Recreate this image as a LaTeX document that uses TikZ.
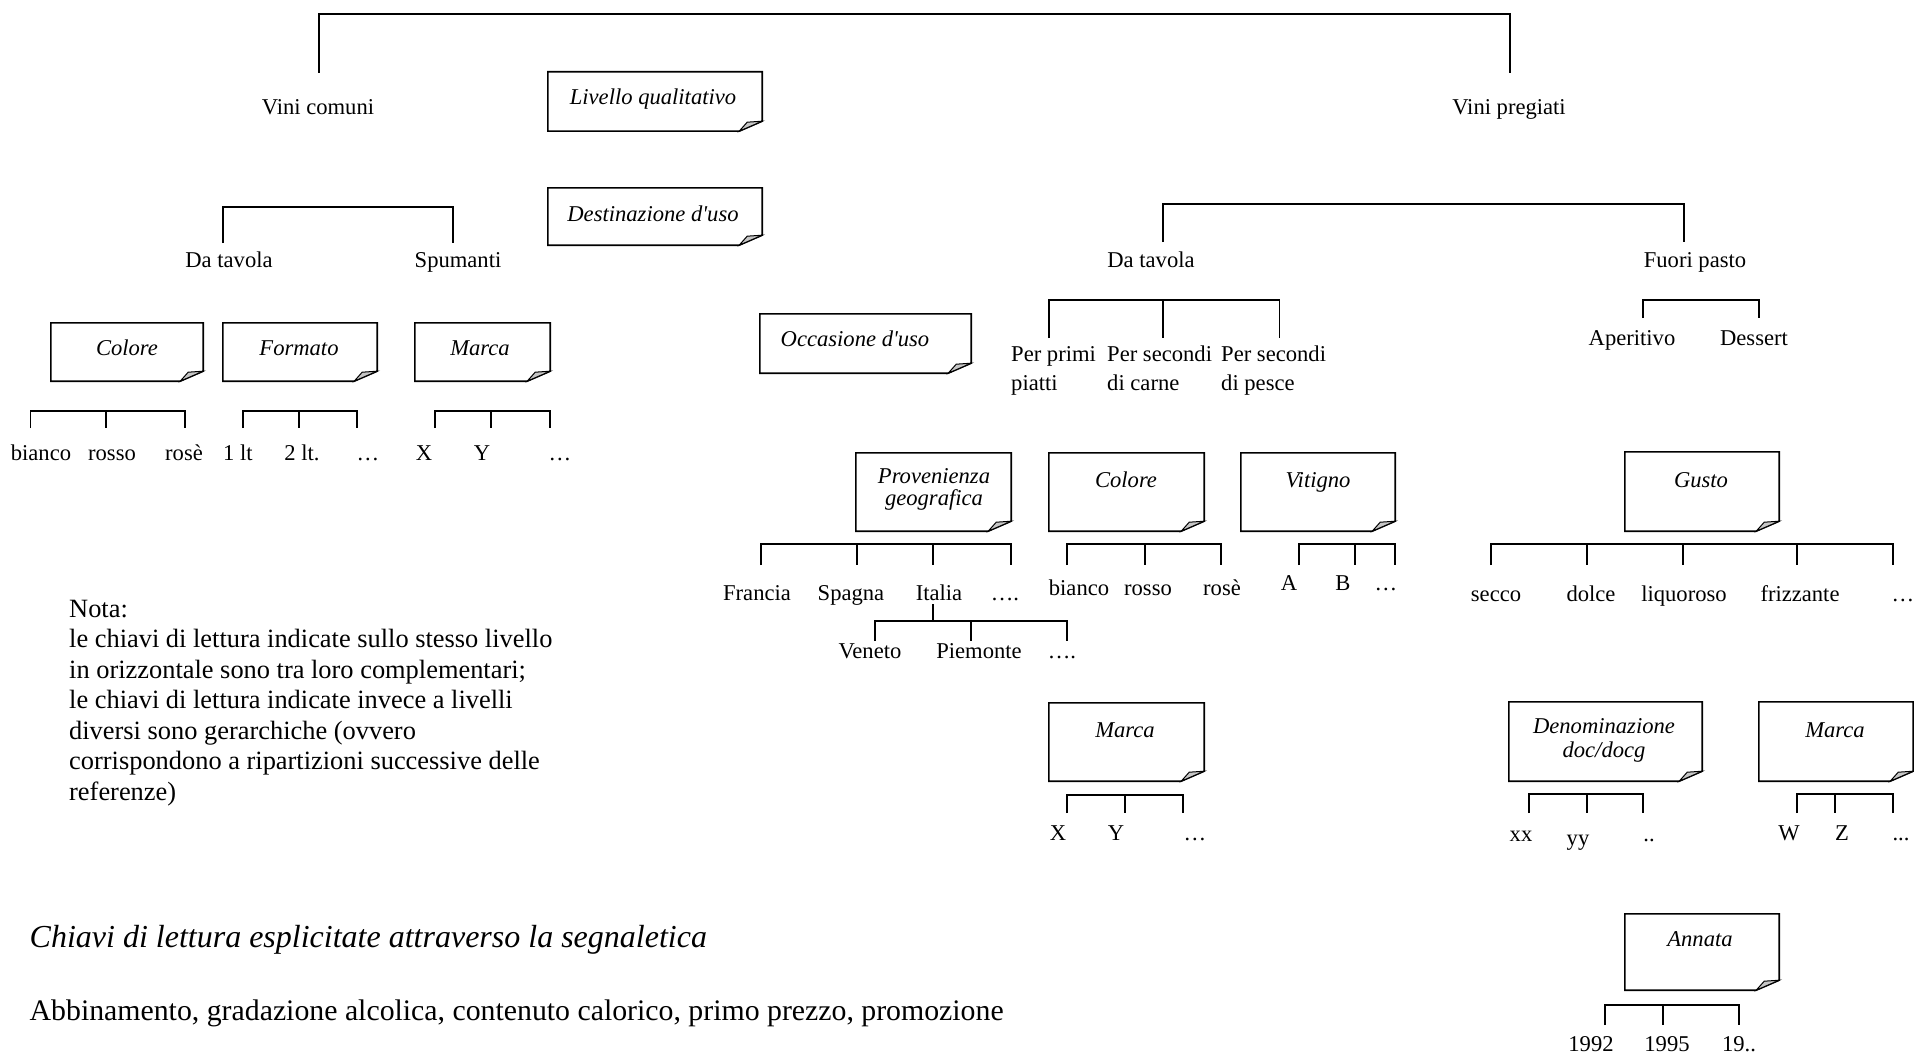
\documentclass[tikz,border=0pt]{standalone}
\usepackage{fontspec}
\setmainfont{Liberation Serif}[Ligatures=TeXOff]
\usetikzlibrary{fit}

% outline of a key card with a curled bottom-right corner
\newcommand\pageoutline[1]{%
  \draw[line width=1.6pt] (#1.north west) -- (#1.north east)
    -- ([yshift=10pt]#1.south east) -- ([xshift=-23pt]#1.south east)
    -- (#1.south west) -- cycle;
  \draw[line width=1pt, fill=gray!45] ([xshift=-23pt]#1.south east)
    -- ([yshift=10pt]#1.south east) -- ([xshift=-15pt,yshift=9pt]#1.south east) -- cycle;
}
% bracket: horizontal at #1, legs down to #2, from x=#3 to x=#4
\newcommand\bracket[4]{\draw[br] (#3,#2) |- (#4,#1) -- (#4,#2);}
% inner leg of a bracket
\newcommand\leg[3]{\draw[br] (#1,#2) -- (#1,#3);}

\begin{document}
\begin{tikzpicture}[x=1pt,y=-1pt,
  br/.style={line width=1.6pt},
  lbl/.style={inner sep=0pt, anchor=base, font=\fontsize{22.6}{27}\selectfont},
  lblw/.style={lbl, anchor=base west},
  keytxt/.style={lbl, font=\fontsize{22.6}{27}\selectfont\itshape},
  card/.style={inner sep=0pt, draw=none},
  ]
\useasboundingbox (0,0) rectangle (1914,1054);

% ---------- key cards ----------
\node[card, fit={(548,72) (762,131)}] (lq) {};
\node[card, fit={(548,188) (762,245)}] (du) {};
\node[card, fit={(51,323) (203,381)}] (col1) {};
\node[card, fit={(223,323) (377,381)}] (fmt) {};
\node[card, fit={(415,323) (550,381)}] (mar1) {};
\node[card, fit={(760,314) (971,373)}] (occ) {};
\node[card, fit={(856,453) (1011,531)}] (prov) {};
\node[card, fit={(1049,453) (1204,531)}] (col2) {};
\node[card, fit={(1241,453) (1395,531)}] (vit) {};
\node[card, fit={(1625,452) (1779,531)}] (gus) {};
\node[card, fit={(1049,703) (1204,781)}] (mar2) {};
\node[card, fit={(1509,702) (1702,781)}] (den) {};
\node[card, fit={(1759,702) (1913,781)}] (mar3) {};
\node[card, fit={(1625,914) (1779,990)}] (ann) {};
\foreach \c in {lq,du,col1,fmt,mar1,occ,prov,col2,vit,gus,mar2,den,mar3,ann}
  {\pageoutline{\c}}

\node[keytxt] (lq-t) at (653,105) {Livello qualitativo};
\node[keytxt] (du-t) at (653,221) {Destinazione d'uso};
\node[keytxt] (col1-t) at (127,355) {Colore};
\node[keytxt] (fmt-t) at (299,355) {Formato};
\node[keytxt] (mar1-t) at (480,355) {Marca};
\node[keytxt] (occ-t) at (855,346) {Occasione d'uso};
\node[keytxt] (prov-t1) at (934,483) {Provenienza};
\node[keytxt] (prov-t2) at (934,505) {geografica};
\node[keytxt] (col2-t) at (1126,487) {Colore};
\node[keytxt] (vit-t) at (1318,487) {Vitigno};
\node[keytxt] (gus-t) at (1701,487) {Gusto};
\node[keytxt] (mar2-t) at (1125,737) {Marca};
\node[keytxt] (den-t1) at (1604,733) {Denominazione};
\node[keytxt] (den-t2) at (1604,757) {doc/docg};
\node[keytxt] (mar3-t) at (1835,737) {Marca};
\node[keytxt] (ann-t) at (1700,946) {Annata};

% ---------- category labels ----------
\node[lbl] (vc) at (318,115) {Vini comuni};
\node[lbl] (vp) at (1509,115) {Vini pregiati};
\node[lbl] (dtl) at (229,267) {Da tavola};
\node[lbl] (spu) at (458,267) {Spumanti};
\node[lbl] (dtr) at (1151,267) {Da tavola};
\node[lbl] (fp) at (1695,267) {Fuori pasto};

\node[lblw] (pp1) at (1011,361) {Per primi};
\node[lblw] (pp2) at (1011,390) {piatti};
\node[lblw] (sc1) at (1107,361) {Per secondi};
\node[lblw] (sc2) at (1107,390) {di carne};
\node[lblw] (sp1) at (1221,361) {Per secondi};
\node[lblw] (sp2) at (1221,390) {di pesce};

\node[lbl] (ape) at (1632,345) {Aperitivo};
\node[lbl] (des) at (1754,345) {Dessert};

% left leaves
\node[lbl] (c1a) at (41,460) {bianco};
\node[lbl] (c1b) at (112,460) {rosso};
\node[lbl] (c1c) at (184,460) {rosè};
\node[lbl] (f1a) at (238,460) {1 lt};
\node[lbl] (f1b) at (302,460) {2 lt.};
\node[lbl] (f1c) at (368,460) {…};
\node[lbl] (m1a) at (424,460) {X};
\node[lbl] (m1b) at (482,460) {Y};
\node[lbl] (m1c) at (560,460) {…};

% geographic origin
\node[lbl] (fra) at (757,600) {Francia};
\node[lbl] (spa) at (851,600) {Spagna};
\node[lbl] (ita) at (939,600) {Italia};
\node[lbl] (geo) at (1005,600) {….};
\node[lbl] (ven) at (870,658) {Veneto};
\node[lbl] (pie) at (979,658) {Piemonte};
\node[lbl] (reg) at (1062,658) {….};

\node[lbl] (c2a) at (1079,595) {bianco};
\node[lbl] (c2b) at (1148,595) {rosso};
\node[lbl] (c2c) at (1222,595) {rosè};
\node[lbl] (va) at (1289,590) {A};
\node[lbl] (vb) at (1343,590) {B};
\node[lbl] (vc3) at (1386,590) {…};

\node[lbl] (g1) at (1496,601) {secco};
\node[lbl] (g2) at (1591,601) {dolce};
\node[lbl] (g3) at (1684,601) {liquoroso};
\node[lbl] (g4) at (1800,601) {frizzante};
\node[lbl] (g5) at (1903,601) {…};

\node[lbl] (m2a) at (1058,840) {X};
\node[lbl] (m2b) at (1116,840) {Y};
\node[lbl] (m2c) at (1195,840) {…};
\node[lbl] (d1) at (1521,841) {xx};
\node[lbl] (d2) at (1578,845) {yy};
\node[lbl] (d3) at (1649,841) {..};
\node[lbl] (m3a) at (1789,840) {W};
\node[lbl] (m3b) at (1842,840) {Z};
\node[lbl] (m3c) at (1901,840) {...};
\node[lbl] (y1) at (1591,1051) {1992};
\node[lbl] (y2) at (1667,1051) {1995};
\node[lbl] (y3) at (1739,1051) {19..};

% ---------- brackets ----------
\bracket{14}{73}{319}{1510}
\bracket{207}{243}{223}{453}
\bracket{411}{428}{30.6}{185} \leg{106}{411}{428}
\bracket{411}{428}{243}{357}  \leg{299}{411}{428}
\bracket{411}{428}{435}{550}  \leg{491}{411}{428}
\bracket{204}{242}{1163}{1684}
\bracket{300}{338}{1049}{1279.5} \leg{1163}{300}{338}
\bracket{300}{318}{1643}{1759}
\bracket{544}{565}{761}{1011} \leg{857}{544}{565} \leg{933}{544}{565}
\draw[br] (ita.south) ++(-6,4) coordinate (itadown) -- (itadown |- 0,621);
\bracket{621}{641}{875}{1067} \leg{971}{621}{641}
\bracket{544}{565}{1067}{1221} \leg{1145}{544}{565}
\bracket{544}{565}{1299}{1395} \leg{1355}{544}{565}
\bracket{544}{565}{1491}{1893} \leg{1587}{544}{565} \leg{1683}{544}{565} \leg{1797}{544}{565}
\bracket{795}{813}{1067}{1183} \leg{1125}{795}{813}
\bracket{794}{813}{1529}{1643} \leg{1587}{794}{813}
\bracket{794}{813}{1797}{1893} \leg{1835}{794}{813}
\bracket{1005}{1025}{1605}{1739} \leg{1663}{1005}{1025}

% ---------- notes ----------
\foreach \ln [count=\i from 0] in {Nota:,
  le chiavi di lettura indicate sullo stesso livello,
  in orizzontale sono tra loro complementari;,
  le chiavi di lettura indicate invece a livelli,
  diversi sono gerarchiche (ovvero,
  corrispondono a ripartizioni successive delle,
  referenze)}
  {\node[inner sep=0pt, anchor=base west, font=\fontsize{26.4}{30}\selectfont]
     (nota-\i) at (69,617+30.5*\i) {\ln};}

\node[inner sep=0pt, anchor=base west, font=\fontsize{32}{36}\selectfont\itshape]
  (chiavi) at (29.5,947) {Chiavi di lettura esplicitate attraverso la segnaletica};
\node[inner sep=0pt, anchor=base west, font=\fontsize{29.8}{36}\selectfont]
  (abb) at (29.5,1020) {Abbinamento, gradazione alcolica, contenuto calorico, primo prezzo, promozione};
\end{tikzpicture}
\end{document}
